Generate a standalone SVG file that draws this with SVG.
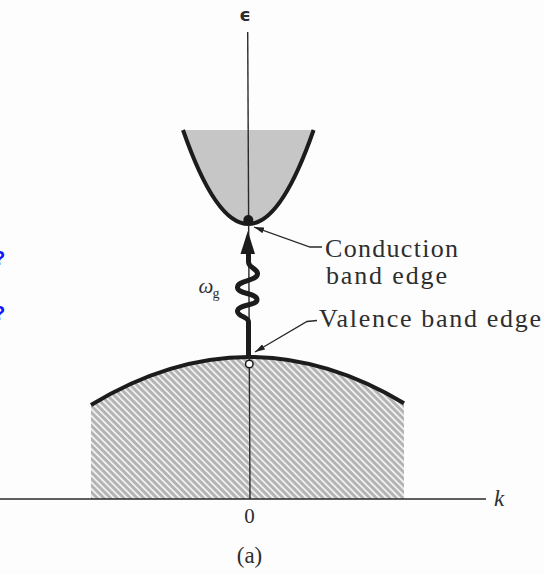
<svg xmlns="http://www.w3.org/2000/svg" width="544" height="574" viewBox="0 0 544 574">
  <defs>
    <pattern id="hatch" width="4.7" height="10" patternUnits="userSpaceOnUse" patternTransform="rotate(-45)">
      <rect width="4.7" height="10" fill="#b3b3b3"/>
      <rect width="1.7" height="10" fill="#f5f5f5"/>
    </pattern>
    <marker id="tip" viewBox="0 0 10 6" refX="10" refY="3" markerWidth="10" markerHeight="6" markerUnits="userSpaceOnUse" orient="auto">
      <path d="M0,0 L10,3 L0,6 Z" fill="#222"/>
    </marker>
    <style>
      .band { fill: none; stroke: #1c1c1c; stroke-width: 4; stroke-linecap: butt; }
      .axis { fill: none; stroke: #2a2a2a; stroke-width: 1.4; }
      .leader { fill: none; stroke: #2a2a2a; stroke-width: 1.3; }
      .lbl { font-family: "Liberation Serif", "Times New Roman", serif; font-size: 26px; fill: #2e2e2e; }
      .mark { font-family: "Liberation Sans", Arial, sans-serif; font-weight: bold; font-size: 20px; fill: #1414ff; }
    </style>
  </defs>

  <rect width="544" height="574" fill="#fdfdfd"/>

  <!-- blue marks cut by left edge -->
  <text class="mark" x="-7" y="265">?</text>
  <text class="mark" x="-7" y="320">?</text>

  <g id="conduction-band">
    <path d="M183,130 Q248.3,318 313.6,130 Z" fill="#c6c6c6"/>
    <path class="band" d="M183,130 Q248.3,318 313.6,130"/>
  </g>

  <g id="valence-band">
    <path d="M91,405 Q247.5,309.9 404,403.2 L404,499 L91,499 Z" fill="url(#hatch)"/>
    <path class="band" d="M91,405 Q247.5,309.9 404,403.2"/>
  </g>

  <g id="axes">
    <line class="axis" x1="247.7" y1="32" x2="250" y2="499"/>
    <line class="axis" x1="0" y1="499" x2="486" y2="499"/>
    <text x="245" y="21" text-anchor="middle" font-family="DejaVu Sans, sans-serif" font-weight="bold" font-size="18" fill="#2e2e2e">ϵ</text>
    <text x="499" y="506" text-anchor="middle" font-family="Liberation Serif, serif" font-style="italic" font-size="23" fill="#2e2e2e">k</text>
    <text x="249.5" y="523" text-anchor="middle" class="lbl" style="font-size:21px">0</text>
  </g>

  <g id="conduction-edge">
    <circle cx="248.3" cy="220" r="5" fill="#1a1a1a"/>
  </g>

  <g id="valence-edge">
    <circle cx="249.3" cy="364" r="3.8" fill="#ffffff" stroke="#1a1a1a" stroke-width="1.5"/>
  </g>

  <g id="photon">
    <path d="M248.5,357 L248.5,322 C248.5,316 237,317 237.5,311 C238,304 257.5,306 257,299.5 C256.5,293 237.5,294 237.5,287.5 C237.5,280 258,281 257.5,273.5 C257,268 248.5,268 248.5,262 L248.5,251" fill="none" stroke="#1c1c1c" stroke-width="5" stroke-linejoin="round"/>
    <path d="M247.8,231 L240.5,254 L255,254 Z" fill="#1c1c1c"/>
    <text x="198.5" y="293" font-family="Liberation Serif, serif" font-style="italic" font-size="21" fill="#2e2e2e">ω</text>
    <text x="212.5" y="298" font-family="Liberation Serif, serif" font-size="14" fill="#2e2e2e">g</text>
  </g>

  <g id="connectors">
    <polyline class="leader" points="322,247 310,247 254,227" marker-end="url(#tip)"/>
    <polyline class="leader" points="317,320.5 307,321.5 255,352" marker-end="url(#tip)"/>
  </g>

  <g id="labels">
    <text class="lbl" x="325" y="256.5" textLength="133" lengthAdjust="spacing">Conduction</text>
    <text class="lbl" x="326" y="284" textLength="121" lengthAdjust="spacing">band edge</text>
    <text class="lbl" x="319" y="326.5" textLength="222" lengthAdjust="spacing">Valence band edge</text>
    <text class="lbl" x="249.5" y="563" text-anchor="middle" style="font-size:23px">(a)</text>
  </g>
</svg>
